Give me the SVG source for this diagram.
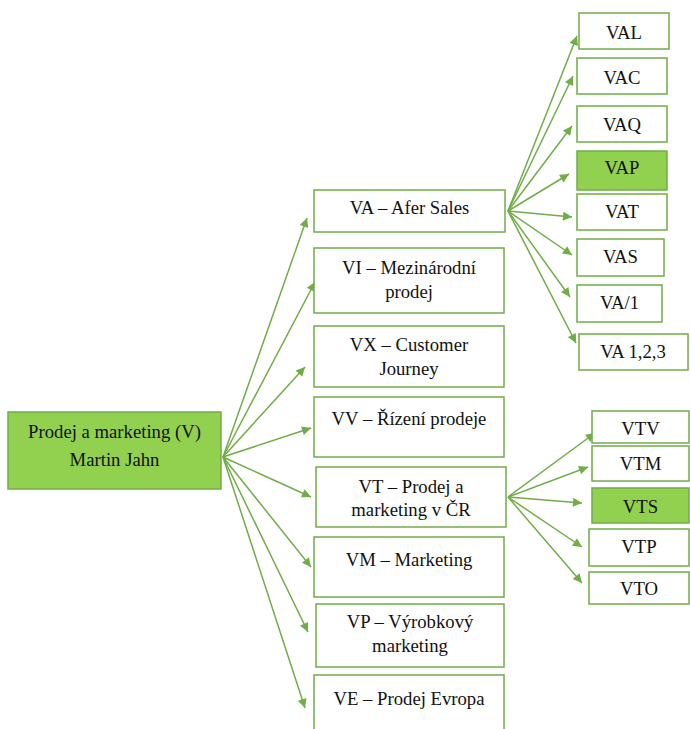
<svg xmlns="http://www.w3.org/2000/svg" width="690" height="729" viewBox="0 0 690 729">
  <style>
    .box { fill: #ffffff; stroke: #70ad47; stroke-width: 1.5; }
    .hl { fill: #92d050; stroke: #70ad47; stroke-width: 1.5; }
    .lbl { font-family: 'Liberation Serif', 'DejaVu Serif', serif; font-size: 18.7px; fill: #111111; text-anchor: middle; }
    .conn line { stroke: #70ad47; stroke-width: 1.5; marker-end: url(#arrow); }
  </style>
  <defs>
    <marker id="arrow" viewBox="0 0 10 10" refX="10" refY="5" markerWidth="7" markerHeight="6" markerUnits="strokeWidth" orient="auto">
      <path d="M0,0 L10,5 L0,10 z" fill="#70ad47"/>
    </marker>
    <clipPath id="clipVT"><rect x="316" y="467" width="190" height="60"/></clipPath>
  </defs>
  <rect width="690" height="729" fill="#ffffff"/>

  <!-- connectors -->
  <g id="connectors" class="conn">
    <!-- root to second level -->
    <line x1="223" y1="457" x2="307" y2="218"/>
    <line x1="223" y1="457" x2="315" y2="282"/>
    <line x1="223" y1="457" x2="305" y2="367"/>
    <line x1="223" y1="457" x2="311" y2="428"/>
    <line x1="223" y1="457" x2="311" y2="497"/>
    <line x1="223" y1="457" x2="311" y2="567"/>
    <line x1="223" y1="457" x2="308" y2="632"/>
    <line x1="223" y1="457" x2="305" y2="708"/>
    <!-- VA children -->
    <line x1="508" y1="211" x2="577" y2="36"/>
    <line x1="508" y1="211" x2="573" y2="76"/>
    <line x1="508" y1="211" x2="572" y2="126"/>
    <line x1="508" y1="211" x2="569" y2="174"/>
    <line x1="508" y1="211" x2="572" y2="217"/>
    <line x1="508" y1="211" x2="572" y2="255"/>
    <line x1="508" y1="211" x2="570" y2="297"/>
    <line x1="508" y1="211" x2="576" y2="343"/>
    <!-- VT children -->
    <line x1="508" y1="497" x2="595" y2="433"/>
    <line x1="508" y1="497" x2="588" y2="467"/>
    <line x1="508" y1="497" x2="582" y2="503"/>
    <line x1="508" y1="497" x2="582" y2="547"/>
    <line x1="508" y1="497" x2="582" y2="583"/>
  </g>

  <!-- root -->
  <g id="root" font-family="Liberation Serif">
    <rect class="hl" x="8" y="412" width="213" height="77"/>
    <text class="lbl" x="114.5" y="438" font-family="Liberation Serif">Prodej a marketing (V)</text>
    <text class="lbl" x="114.5" y="466" font-family="Liberation Serif">Martin Jahn</text>
  </g>

  <!-- second level -->
  <g id="VA">
    <rect class="box" x="314" y="190" width="191" height="42"/>
    <text class="lbl" x="409.5" y="214">VA – Afer Sales</text>
  </g>
  <g id="VI">
    <rect class="box" x="314" y="248" width="190" height="65"/>
    <text class="lbl" x="409" y="274">VI – Mezinárodní</text>
    <text class="lbl" x="409" y="298">prodej</text>
  </g>
  <g id="VX">
    <rect class="box" x="314" y="326" width="190" height="61"/>
    <text class="lbl" x="409" y="351">VX – Customer</text>
    <text class="lbl" x="409" y="375">Journey</text>
  </g>
  <g id="VV">
    <rect class="box" x="314" y="397" width="190" height="60"/>
    <text class="lbl" x="409" y="425">VV – Řízení prodeje</text>
  </g>
  <g id="VT">
    <rect class="box" x="316" y="467" width="190" height="60"/>
    <g clip-path="url(#clipVT)">
      <text class="lbl" x="411" y="493">VT – Prodej a</text>
      <text class="lbl" x="411" y="516">marketing v ČR</text>
    </g>
  </g>
  <g id="VM">
    <rect class="box" x="314" y="537" width="190" height="60"/>
    <text class="lbl" x="409" y="566">VM – Marketing</text>
  </g>
  <g id="VP">
    <rect class="box" x="316" y="604" width="188" height="63"/>
    <text class="lbl" x="410" y="628">VP – Výrobkový</text>
    <text class="lbl" x="410" y="652">marketing</text>
  </g>
  <g id="VE">
    <rect class="box" x="314" y="675" width="190" height="64"/>
    <text class="lbl" x="409" y="705">VE – Prodej Evropa</text>
  </g>

  <!-- VA children -->
  <g id="VAL">
    <rect class="box" x="579" y="13" width="90" height="36"/>
    <text class="lbl" x="624" y="39">VAL</text>
  </g>
  <g id="VAC">
    <rect class="box" x="577" y="58" width="90" height="36"/>
    <text class="lbl" x="622" y="84">VAC</text>
  </g>
  <g id="VAQ">
    <rect class="box" x="577" y="106" width="90" height="36"/>
    <text class="lbl" x="622" y="131">VAQ</text>
  </g>
  <g id="VAP">
    <rect class="hl" x="577" y="151" width="90" height="39"/>
    <text class="lbl" x="622" y="174">VAP</text>
  </g>
  <g id="VAT">
    <rect class="box" x="577" y="194" width="90" height="36"/>
    <text class="lbl" x="622" y="218">VAT</text>
  </g>
  <g id="VAS">
    <rect class="box" x="577" y="239" width="87" height="37"/>
    <text class="lbl" x="620.5" y="263">VAS</text>
  </g>
  <g id="VA1">
    <rect class="box" x="577" y="285" width="85" height="37"/>
    <text class="lbl" x="619.5" y="309">VA/1</text>
  </g>
  <g id="VA123">
    <rect class="box" x="579" y="334" width="109" height="36"/>
    <text class="lbl" x="633" y="358">VA 1,2,3</text>
  </g>

  <!-- VT children -->
  <g id="VTV">
    <rect class="box" x="592" y="411" width="97" height="32"/>
    <text class="lbl" x="640.5" y="435">VTV</text>
  </g>
  <g id="VTM">
    <rect class="box" x="592" y="446" width="97" height="35"/>
    <text class="lbl" x="640.5" y="470">VTM</text>
  </g>
  <g id="VTS">
    <rect class="hl" x="592" y="488" width="97" height="35"/>
    <text class="lbl" x="640.5" y="513">VTS</text>
  </g>
  <g id="VTP">
    <rect class="box" x="589" y="529" width="100" height="37"/>
    <text class="lbl" x="639" y="553">VTP</text>
  </g>
  <g id="VTO">
    <rect class="box" x="589" y="572" width="100" height="32"/>
    <text class="lbl" x="639" y="595">VTO</text>
  </g>
</svg>
